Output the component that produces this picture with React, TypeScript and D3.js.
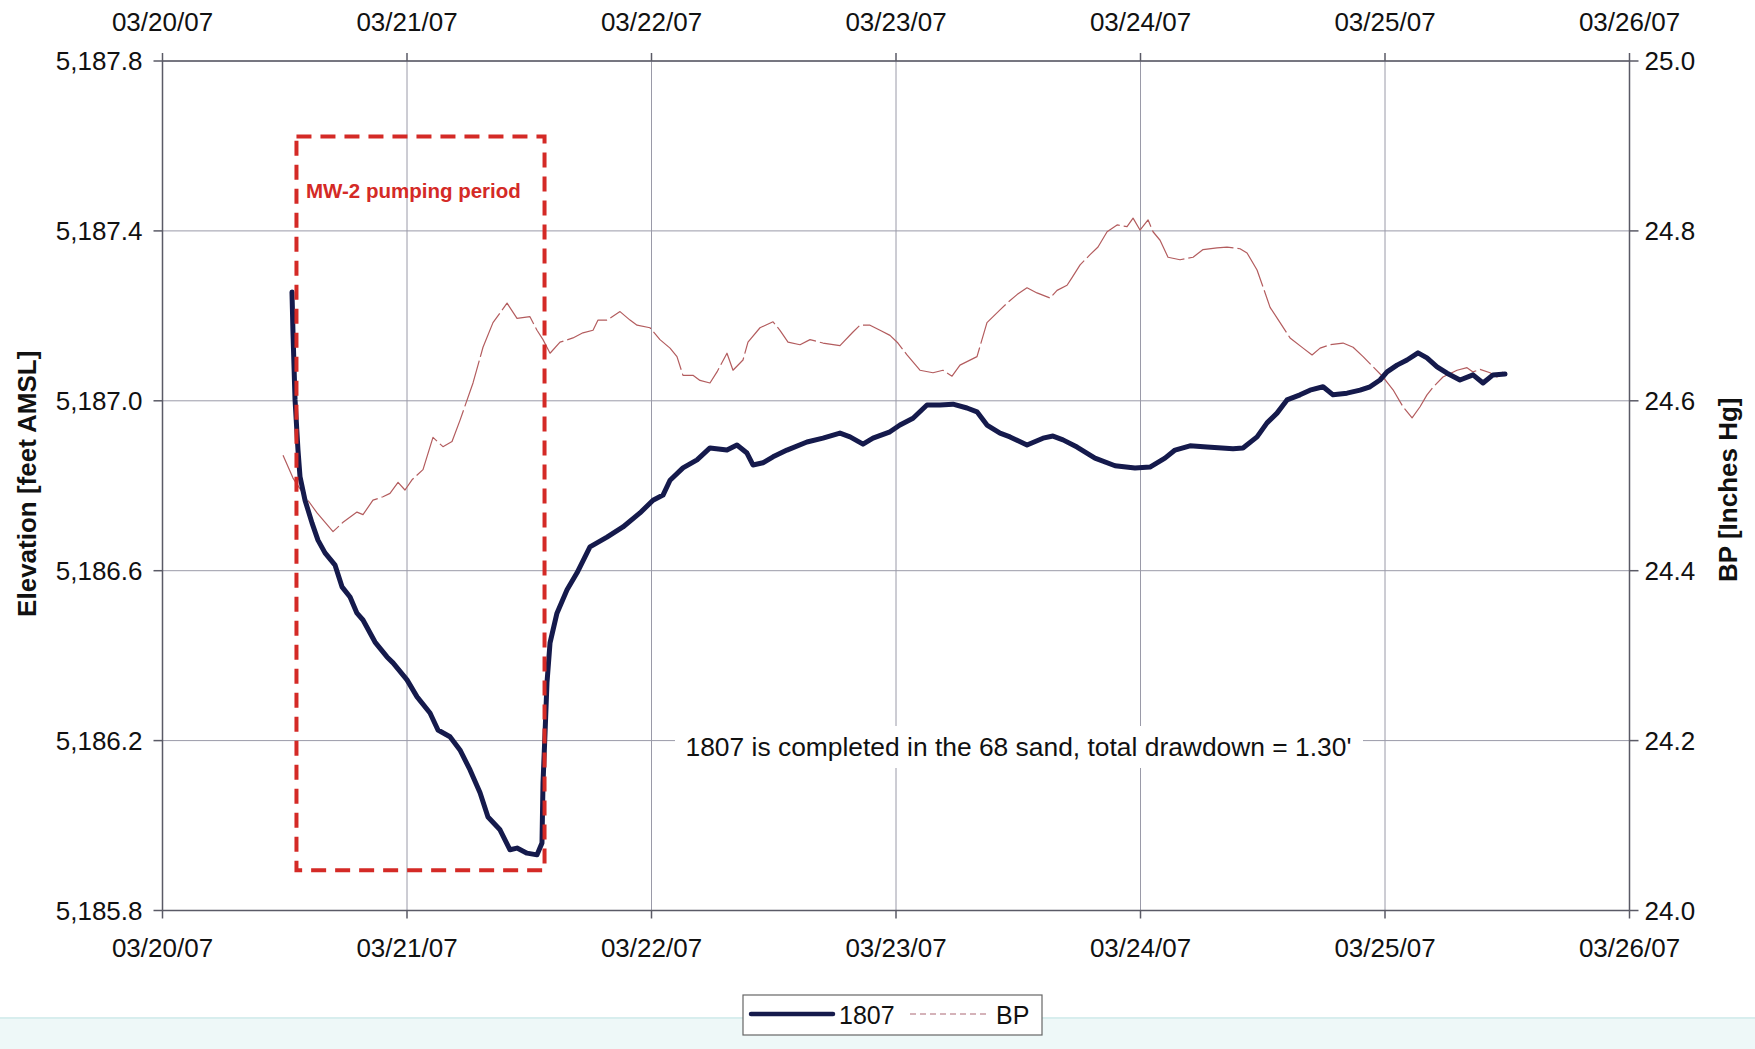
import React from "react";
import * as d3 from "d3";

// ---- data ----
const startDate = new Date(2007, 2, 20);
const endDate = new Date(2007, 2, 26);
const leftTicks = [5185.8, 5186.2, 5186.6, 5187.0, 5187.4, 5187.8];
const rightTicks = [24.0, 24.2, 24.4, 24.6, 24.8, 25.0];

// hours since 03/20/07 00:00
const hours1807 = [12.71, 12.81, 13.01, 13.3, 13.5, 13.99, 14.68, 15.26, 15.95, 16.94, 17.62, 18.41, 19.09, 19.68, 20.86, 22.04, 22.63, 24.0, 24.99, 26.26, 27.04, 28.22, 29.2, 30.19, 31.17, 31.95, 33.13, 34.11, 34.8, 35.78, 36.76, 37.25, 37.35, 37.55, 37.74, 38.04, 38.72, 39.71, 40.69, 41.96, 43.63, 45.2, 46.87, 48.15, 49.13, 49.82, 51.09, 52.47, 53.74, 55.41, 56.39, 57.37, 57.96, 58.94, 59.93, 61.3, 63.26, 64.83, 66.5, 67.49, 68.76, 69.74, 71.41, 72.39, 73.67, 75.04, 76.32, 77.59, 78.97, 79.95, 80.93, 82.21, 83.19, 84.86, 86.43, 87.41, 88.39, 89.77, 91.53, 93.5, 95.46, 96.93, 98.4, 99.39, 100.86, 102.53, 105.08, 106.06, 107.44, 108.42, 109.4, 110.38, 111.66, 112.64, 113.92, 114.9, 116.27, 117.55, 118.53, 119.51, 120.2, 121.18, 122.16, 123.24, 124.12, 125.11, 126.09, 127.36, 128.64, 129.62, 130.6, 131.78];
const elev1807 = [5187.256, 5187.16, 5187.002, 5186.884, 5186.821, 5186.766, 5186.712, 5186.672, 5186.642, 5186.613, 5186.562, 5186.538, 5186.5, 5186.484, 5186.432, 5186.397, 5186.383, 5186.343, 5186.303, 5186.265, 5186.225, 5186.209, 5186.178, 5186.131, 5186.077, 5186.02, 5185.99, 5185.943, 5185.947, 5185.935, 5185.931, 5185.959, 5186.1, 5186.218, 5186.336, 5186.43, 5186.5, 5186.555, 5186.595, 5186.656, 5186.679, 5186.703, 5186.736, 5186.766, 5186.778, 5186.813, 5186.842, 5186.861, 5186.889, 5186.884, 5186.896, 5186.877, 5186.849, 5186.854, 5186.868, 5186.884, 5186.903, 5186.912, 5186.924, 5186.915, 5186.898, 5186.912, 5186.927, 5186.943, 5186.959, 5186.99, 5186.99, 5186.992, 5186.983, 5186.974, 5186.943, 5186.924, 5186.915, 5186.896, 5186.912, 5186.917, 5186.908, 5186.891, 5186.865, 5186.847, 5186.842, 5186.844, 5186.865, 5186.884, 5186.894, 5186.891, 5186.887, 5186.889, 5186.915, 5186.948, 5186.971, 5187.002, 5187.014, 5187.025, 5187.033, 5187.014, 5187.018, 5187.025, 5187.033, 5187.049, 5187.068, 5187.084, 5187.096, 5187.113, 5187.101, 5187.08, 5187.065, 5187.049, 5187.061, 5187.042, 5187.061, 5187.063];

const hoursBP = [11.83, 12.81, 13.79, 15.17, 16.74, 17.72, 19.09, 19.68, 20.66, 21.64, 22.33, 23.12, 23.8, 24.49, 25.57, 26.55, 27.53, 28.42, 29.2, 30.48, 31.46, 32.44, 33.82, 34.8, 36.07, 36.76, 37.35, 38.04, 39.02, 40.29, 41.27, 42.26, 42.75, 43.63, 44.91, 45.89, 46.58, 47.85, 48.83, 49.82, 50.5, 51.09, 52.07, 52.76, 53.74, 54.43, 55.41, 56.0, 56.98, 57.47, 58.65, 59.93, 60.61, 61.4, 62.58, 63.56, 64.83, 66.5, 67.78, 68.47, 69.45, 70.43, 71.41, 72.19, 73.08, 74.35, 75.63, 76.61, 77.5, 78.28, 79.95, 80.93, 82.21, 82.9, 83.88, 84.86, 85.84, 87.12, 87.81, 88.79, 89.28, 90.07, 91.05, 91.83, 92.72, 93.7, 94.68, 95.27, 95.95, 96.74, 97.23, 97.92, 98.7, 99.88, 101.16, 102.14, 103.51, 104.49, 105.77, 106.46, 107.44, 108.03, 108.72, 109.7, 110.68, 111.96, 112.84, 113.63, 114.61, 115.88, 116.87, 117.85, 118.83, 119.81, 120.79, 121.77, 122.66, 123.44, 124.12, 124.71, 125.69, 127.07, 128.05, 128.64, 129.33, 130.31, 130.99, 131.58];
const bpValues = [24.536, 24.509, 24.491, 24.468, 24.446, 24.457, 24.469, 24.466, 24.483, 24.487, 24.491, 24.504, 24.495, 24.507, 24.519, 24.557, 24.546, 24.552, 24.577, 24.621, 24.663, 24.692, 24.715, 24.697, 24.699, 24.683, 24.672, 24.656, 24.669, 24.674, 24.68, 24.683, 24.695, 24.695, 24.705, 24.695, 24.689, 24.686, 24.672, 24.662, 24.652, 24.63, 24.63, 24.624, 24.621, 24.634, 24.656, 24.636, 24.648, 24.669, 24.686, 24.693, 24.683, 24.669, 24.666, 24.672, 24.668, 24.665, 24.681, 24.689, 24.689, 24.683, 24.677, 24.668, 24.654, 24.636, 24.633, 24.636, 24.629, 24.642, 24.652, 24.692, 24.707, 24.715, 24.725, 24.733, 24.727, 24.721, 24.73, 24.736, 24.745, 24.76, 24.772, 24.781, 24.799, 24.807, 24.805, 24.815, 24.801, 24.813, 24.799, 24.789, 24.769, 24.766, 24.769, 24.778, 24.78, 24.781, 24.779, 24.774, 24.754, 24.734, 24.71, 24.692, 24.674, 24.662, 24.654, 24.662, 24.666, 24.668, 24.663, 24.652, 24.64, 24.628, 24.613, 24.593, 24.58, 24.593, 24.607, 24.616, 24.628, 24.636, 24.639, 24.634, 24.637, 24.633, 24.628, 24.634];

// pumping period box (hours, elevation)
const pumpStartHour = 13.15;
const pumpEndHour = 37.5;
const pumpTop = 5187.622;
const pumpBottom = 5185.895;

const seriesNames = ["1807", "BP"];
const annotation = "1807 is completed in the 68 sand, total drawdown = 1.30'";
const pumpLabel = "MW-2 pumping period";

const hoursToDate = (h: number) => new Date(startDate.getTime() + h * 3600 * 1000);

export default function App() {
  const W = 1755, H = 1049;
  const left = 162.5, right = 1629.5, top = 61, bottom = 910.5;
  const font = "'Liberation Sans', Arial, Helvetica, sans-serif";

  const x = d3.scaleTime().domain([startDate, endDate]).range([left, right]);
  const yL = d3.scaleLinear().domain([5185.8, 5187.8]).range([bottom, top]);
  const yR = d3.scaleLinear().domain([24.0, 25.0]).range([bottom, top]);
  const dayTicks = d3.timeDay.range(startDate, d3.timeDay.offset(endDate, 1));
  const fmtDate = d3.timeFormat("%m/%d/%y");
  const fmtL = d3.format(",.1f");
  const fmtR = d3.format(".1f");

  const line1807 = d3.line<number>()
    .x((_, i) => x(hoursToDate(hours1807[i])))
    .y((v) => yL(v));
  const lineBP = d3.line<number>()
    .x((_, i) => x(hoursToDate(hoursBP[i])))
    .y((v) => yR(v));

  const bx0 = x(hoursToDate(pumpStartHour));
  const bx1 = x(hoursToDate(pumpEndHour));
  const by0 = yL(pumpTop);
  const by1 = yL(pumpBottom);

  const gridColor = "#9a9aa8";
  const axisColor = "#5a5a66";

  return (
    <svg width={W} height={H} style={{ position: "absolute", left: 0, top: 0, background: "#fff" }} fontFamily={font}>
      <rect x={0} y={0} width={W} height={H} fill="#fff" />
      <rect x={0} y={1018} width={W} height={H - 1018} fill="#eef8f8" />
      <line x1={0} x2={W} y1={1018} y2={1018} stroke="#d8eeee" strokeWidth={2} />

      {/* horizontal gridlines */}
      {leftTicks.map((t) => (
        <line key={"h" + t} x1={left} x2={right} y1={yL(t)} y2={yL(t)} stroke={gridColor} strokeWidth={1} />
      ))}
      {/* vertical gridlines */}
      {dayTicks.map((d) => (
        <line key={"v" + d.getTime()} x1={x(d)} x2={x(d)} y1={top} y2={bottom} stroke={gridColor} strokeWidth={1} />
      ))}

      {/* frame */}
      <line x1={left} x2={right} y1={top} y2={top} stroke={axisColor} strokeWidth={1.5} />
      <line x1={left} x2={right} y1={bottom} y2={bottom} stroke={axisColor} strokeWidth={1.5} />
      <line x1={left} x2={left} y1={top} y2={bottom} stroke={axisColor} strokeWidth={1.5} />
      <line x1={right} x2={right} y1={top} y2={bottom} stroke={axisColor} strokeWidth={1.5} />

      {/* ticks & labels: left */}
      {leftTicks.map((t) => (
        <g key={"lt" + t}>
          <line x1={left - 9} x2={left} y1={yL(t)} y2={yL(t)} stroke={axisColor} strokeWidth={1.5} />
          <text x={left - 20} y={yL(t)} dy="0.35em" textAnchor="end" fontSize={26} fill="#111">{fmtL(t)}</text>
        </g>
      ))}
      {/* right */}
      {rightTicks.map((t) => (
        <g key={"rt" + t}>
          <line x1={right} x2={right + 9} y1={yR(t)} y2={yR(t)} stroke={axisColor} strokeWidth={1.5} />
          <text x={right + 15} y={yR(t)} dy="0.35em" textAnchor="start" fontSize={26} fill="#111">{fmtR(t)}</text>
        </g>
      ))}
      {/* top & bottom */}
      {dayTicks.map((d) => (
        <g key={"dt" + d.getTime()}>
          <line x1={x(d)} x2={x(d)} y1={top - 8} y2={top} stroke={axisColor} strokeWidth={1.5} />
          <line x1={x(d)} x2={x(d)} y1={bottom} y2={bottom + 8} stroke={axisColor} strokeWidth={1.5} />
          <text x={x(d)} y={31} textAnchor="middle" fontSize={26} fill="#111">{fmtDate(d)}</text>
          <text x={x(d)} y={957} textAnchor="middle" fontSize={26} fill="#111">{fmtDate(d)}</text>
        </g>
      ))}

      {/* axis titles */}
      <text transform={`translate(36,${(top + bottom) / 2 - 2}) rotate(-90)`} textAnchor="middle" fontSize={26} fontWeight="bold" fill="#111">Elevation [feet AMSL]</text>
      <text transform={`translate(1737,${(top + bottom) / 2 + 4}) rotate(-90)`} textAnchor="middle" fontSize={26} fontWeight="bold" fill="#111">BP [Inches Hg]</text>

      {/* annotation with white background */}
      <rect x={675} y={726} width={688} height={42} fill="#fff" />
      <text x={1018.5} y={756} textAnchor="middle" fontSize={26.4} fill="#111">{annotation}</text>

      {/* series */}
      <path d={lineBP(bpValues) || ""} fill="none" stroke="#b35c5e" strokeWidth={1.2} strokeDasharray="48,4" strokeLinejoin="round" />
      <path d={line1807(elev1807) || ""} fill="none" stroke="#151a4c" strokeWidth={5} strokeLinejoin="round" strokeLinecap="round" />

      {/* pumping period box */}
      <rect x={bx0} y={by0} width={bx1 - bx0} height={by1 - by0} fill="none" stroke="#d42a26" strokeWidth={4} strokeDasharray="15,9" />
      <text x={306} y={198} fontSize={20.5} fontWeight="bold" fill="#d42a26">{pumpLabel}</text>

      {/* legend */}
      <rect x={743} y={995} width={299} height={40} fill="#fff" stroke="#666" strokeWidth={1.2} />
      <line x1={751} x2={833} y1={1014} y2={1014} stroke="#151a4c" strokeWidth={4.5} strokeLinecap="round" />
      <text x={839} y={1024} fontSize={25} fill="#111">{seriesNames[0]}</text>
      <line x1={910} x2={989} y1={1014} y2={1014} stroke="#c79aa2" strokeWidth={1.3} strokeDasharray="6,4" />
      <text x={996} y={1024} fontSize={25} fill="#111">{seriesNames[1]}</text>
    </svg>
  );
}
